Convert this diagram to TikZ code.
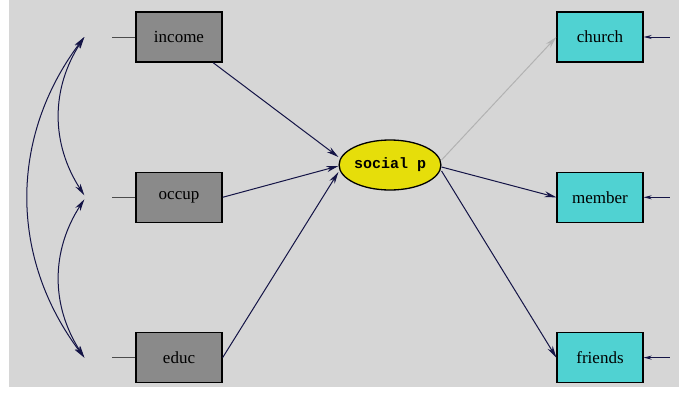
\documentclass[tikz,border=0pt]{standalone}
\usepackage{fontspec}
\setmainfont{Liberation Serif}
\setmonofont{Liberation Mono}
\usetikzlibrary{positioning, arrows.meta, shapes.geometric}
\definecolor{panel}{RGB}{214,214,214}
\definecolor{xbox}{RGB}{138,138,138}
\definecolor{ybox}{RGB}{80,210,210}
\definecolor{latent}{RGB}{230,222,10}
\definecolor{path}{RGB}{20,20,70}

\begin{document}
\begin{tikzpicture}[x=1pt, y=-1pt, node distance={109pt},
  obs/.style = {draw, line width=1.3pt, minimum width=86pt, minimum height=50pt, inner sep=0pt, font=\fontsize{17}{17}\selectfont},
  lat/.style = {draw, ellipse, line width=1.3pt, fill=latent, minimum width=85pt, minimum height=50pt, inner sep=0pt, font=\fontsize{15}{15}\ttfamily\bfseries},
  arr/.style = {path, line width=1pt, -{Stealth[length=12pt, width=6pt]}}]
\useasboundingbox (0,0) rectangle (679,394);
\fill[panel] (9,0) rectangle (679,387);

\node[obs] (income) [fill=xbox] at (179,37) {income};
\node[obs] (occup) [fill=xbox, below=of income] {occup};
\node[obs] (educ) [fill=xbox, below=of occup] {educ};
\node[lat] (social) at (390,165) {social p};
\node[obs] (church) [fill=ybox] at (600,37) {church};
\node[obs] (member) [fill=ybox, below=of church] {member};
\node[obs] (friends) [fill=ybox, below=of member] {friends};

% ends of the error lines and the correlation arcs
\coordinate[left=23pt of income] (e1);
\coordinate[left=23pt of occup] (e2);
\coordinate[left=23pt of educ] (e3);
\coordinate[left=51pt of income] (c1);
\coordinate[left=51pt of occup] (c2);
\coordinate[left=51pt of educ] (c3);
\coordinate[right=26pt of church] (d1);
\coordinate[right=26pt of member] (d2);
\coordinate[right=26pt of friends] (d3);

\draw[black!70, line width=1pt] (e1) -- (income);
\draw[black!70, line width=1pt] (e2) -- (occup);
\draw[black!70, line width=1pt] (e3) -- (educ);

\draw[arr, {Stealth[length=12pt, width=6pt]}-{Stealth[length=12pt, width=6pt]}] (c1) to[bend right=33] ([yshift=2pt]c2);
\draw[arr, {Stealth[length=12pt, width=6pt]}-{Stealth[length=12pt, width=6pt]}] ([yshift=-2pt]c2) to[bend right=33] (c3);
\draw[arr, {Stealth[length=12pt, width=6pt]}-{Stealth[length=12pt, width=6pt]}] (c1) to[bend right=37] (c3);

\draw[arr] (income) -- ([yshift=8pt]social.west);
\draw[arr] (occup.east) -- ([yshift=-1pt]social.west);
\draw[arr] (educ.east) -- ([yshift=-7pt]social.west);
\draw[black!30, line width=1pt, -{Stealth[length=12pt, width=6pt]}] ([yshift=5pt]social.east) -- (church.west);
\draw[arr] ([yshift=-2pt]social.east) -- (member.west);
\draw[arr] ([yshift=-6pt]social.east) -- (friends.west);

\draw[arr, -{Stealth[length=8pt, width=4pt]}] (d1) -- (church);
\draw[arr, -{Stealth[length=8pt, width=4pt]}] (d2) -- (member);
\draw[arr, -{Stealth[length=8pt, width=4pt]}] (d3) -- (friends);
\end{tikzpicture}
\end{document}
